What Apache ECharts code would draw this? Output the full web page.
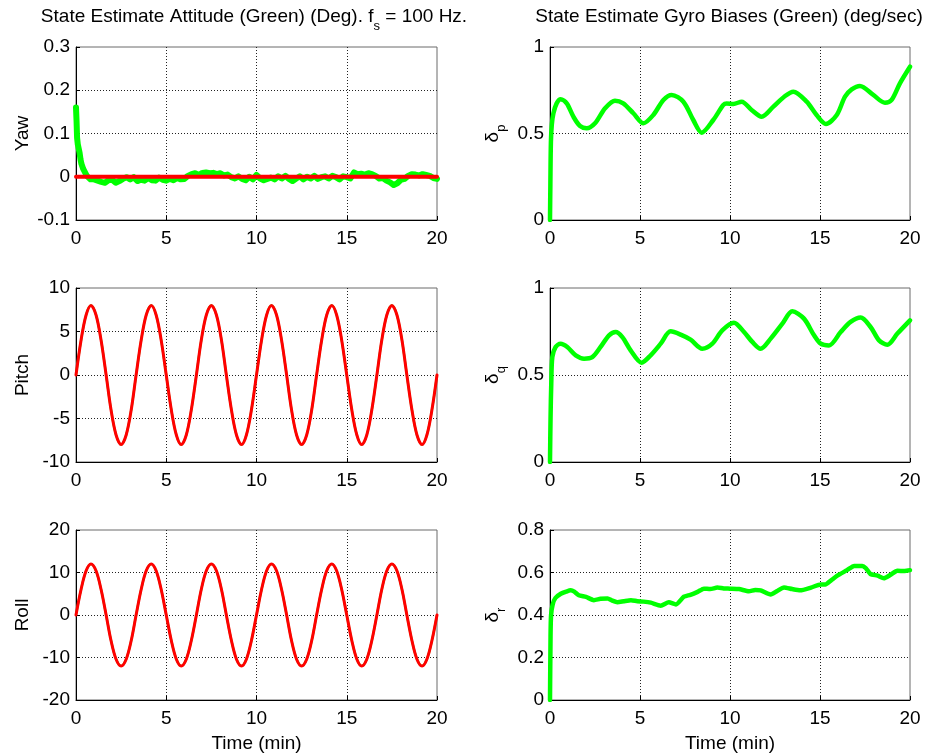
<!DOCTYPE html>
<html>
<head>
<meta charset="utf-8">
<script src="https://cdn.jsdelivr.net/npm/echarts@6/dist/echarts.min.js"></script>
<style>
  html, body { margin: 0; padding: 0; background: #fff; }
  #chart { width: 928px; height: 754px; }
</style>
</head>
<body>
<div id="chart"></div>
<script>
// ---- Attitude (deg) ----
// sample times (min) for pitch / roll reference and estimate
const attTime = [0, 0.28, 0.56, 0.83, 1.11, 1.39, 1.67, 1.94, 2.22, 2.5, 2.78, 3.06,
  3.33, 3.61, 3.89, 4.17, 4.44, 4.72, 5.0, 5.28, 5.56, 5.83, 6.11, 6.39,
  6.67, 6.94, 7.22, 7.5, 7.78, 8.06, 8.33, 8.61, 8.89, 9.17, 9.44, 9.72,
  10.0, 10.28, 10.56, 10.83, 11.11, 11.39, 11.67, 11.94, 12.22, 12.5, 12.78, 13.06,
  13.33, 13.61, 13.89, 14.17, 14.44, 14.72, 15.0, 15.28, 15.56, 15.83, 16.11, 16.39,
  16.67, 16.94, 17.22, 17.5, 17.78, 18.06, 18.33, 18.61, 18.89, 19.17, 19.44, 19.72, 20.0];

const pitchDeg = [0, 4, 6.9, 8, 6.9, 4, 0, -4, -6.9, -8, -6.9, -4,
  0, 4, 6.9, 8, 6.9, 4, 0, -4, -6.9, -8, -6.9, -4,
  0, 4, 6.9, 8, 6.9, 4, 0, -4, -6.9, -8, -6.9, -4,
  0, 4, 6.9, 8, 6.9, 4, 0, -4, -6.9, -8, -6.9, -4,
  0, 4, 6.9, 8, 6.9, 4, 0, -4, -6.9, -8, -6.9, -4,
  0, 4, 6.9, 8, 6.9, 4, 0, -4, -6.9, -8, -6.9, -4, 0];

const rollDeg = [0, 6, 10.4, 12, 10.4, 6, 0, -6, -10.4, -12, -10.4, -6,
  0, 6, 10.4, 12, 10.4, 6, 0, -6, -10.4, -12, -10.4, -6,
  0, 6, 10.4, 12, 10.4, 6, 0, -6, -10.4, -12, -10.4, -6,
  0, 6, 10.4, 12, 10.4, 6, 0, -6, -10.4, -12, -10.4, -6,
  0, 6, 10.4, 12, 10.4, 6, 0, -6, -10.4, -12, -10.4, -6,
  0, 6, 10.4, 12, 10.4, 6, 0, -6, -10.4, -12, -10.4, -6, 0];

// yaw reference is held at zero over the run
const yawRefTime = [0, 20];
const yawRef = [0, 0];

// estimated yaw: [time (min), deg]
const yawEst = [[0, 0.16], [0.03, 0.13], [0.06, 0.09], [0.1, 0.075], [0.15, 0.065], [0.2, 0.055],
  [0.25, 0.04], [0.3, 0.03], [0.4, 0.018], [0.5, 0.01], [0.6, 0.002], [0.8, -0.006],
  [1.0, -0.006], [1.2, -0.009], [1.4, -0.012], [1.6, -0.014], [1.8, -0.008], [2.0, -0.007],
  [2.2, -0.014], [2.4, -0.01], [2.6, -0.005], [2.8, -0.001], [3.0, -0.006], [3.2, -0.001],
  [3.4, -0.01], [3.6, -0.007], [3.8, -0.009], [4.0, -0.003], [4.2, -0.008], [4.4, -0.009],
  [4.6, -0.002], [4.8, -0.007], [5.0, -0.009], [5.2, -0.005], [5.4, -0.008], [5.6, -0.003],
  [5.8, -0.006], [6.0, -0.005], [6.2, 0.002], [6.4, 0.006], [6.6, 0.008], [6.8, 0.004],
  [7.0, 0.009], [7.2, 0.01], [7.4, 0.008], [7.6, 0.009], [7.8, 0.006], [8.0, 0.008],
  [8.2, 0.003], [8.4, 0.005], [8.6, -0.001], [8.8, -0.004], [9.0, 0.001], [9.2, -0.005],
  [9.4, -0.008], [9.6, 0.0], [9.8, -0.006], [10.0, 0.004], [10.2, -0.004], [10.4, -0.008],
  [10.6, -0.005], [10.8, -0.002], [11.0, -0.006], [11.2, 0.001], [11.4, -0.004], [11.6, 0.002],
  [11.8, -0.005], [12.0, -0.01], [12.2, -0.004], [12.4, 0.001], [12.6, -0.006], [12.8, 0.0],
  [13.0, -0.004], [13.2, 0.002], [13.4, -0.005], [13.6, -0.001], [13.8, 0.001], [14.0, -0.004],
  [14.2, 0.002], [14.4, -0.001], [14.6, -0.006], [14.8, 0.001], [15.0, -0.001], [15.2, -0.004],
  [15.4, 0.01], [15.6, 0.006], [15.8, 0.007], [16.0, 0.005], [16.2, 0.008], [16.4, 0.006],
  [16.6, 0.002], [16.8, -0.004], [17.0, -0.003], [17.2, -0.009], [17.4, -0.013], [17.6, -0.019],
  [17.8, -0.015], [18.0, -0.007], [18.2, -0.005], [18.4, 0.002], [18.6, 0.006], [18.8, 0.005],
  [19.0, 0.003], [19.2, 0.006], [19.4, 0.004], [19.6, 0.002], [19.8, -0.003], [20.0, -0.005]];

// ---- Gyro bias estimates (deg/sec): [time (min), value] ----
const biasP = [[0, 0], [0.02, 0.2], [0.05, 0.45], [0.1, 0.55], [0.19, 0.617], [0.37, 0.674],
  [0.59, 0.698], [0.93, 0.674], [1.3, 0.597], [1.67, 0.543], [2.04, 0.53], [2.5, 0.559],
  [3.06, 0.646], [3.61, 0.69], [4.07, 0.674], [4.63, 0.617], [5.19, 0.559], [5.74, 0.607],
  [6.3, 0.694], [6.76, 0.723], [7.41, 0.684], [7.96, 0.578], [8.43, 0.505], [9.07, 0.578],
  [9.63, 0.665], [9.81, 0.674], [10.19, 0.671], [10.65, 0.684], [11.2, 0.636], [11.76, 0.597],
  [12.41, 0.655], [13.06, 0.717], [13.52, 0.742], [14.26, 0.684], [14.81, 0.607], [15.33, 0.555],
  [15.93, 0.607], [16.39, 0.713], [16.76, 0.755], [17.22, 0.775], [17.96, 0.723], [18.61, 0.678],
  [18.98, 0.694], [19.44, 0.79], [20.0, 0.886]];

const biasQ = [[0, 0], [0.03, 0.25], [0.07, 0.45], [0.13, 0.603], [0.31, 0.661], [0.59, 0.68],
  [0.96, 0.661], [1.43, 0.613], [1.89, 0.594], [2.35, 0.603], [2.81, 0.661], [3.28, 0.728],
  [3.65, 0.747], [4.02, 0.718], [4.48, 0.642], [5.09, 0.571], [5.59, 0.613], [6.15, 0.68],
  [6.7, 0.751], [7.26, 0.732], [7.81, 0.703], [8.46, 0.651], [9.02, 0.68], [9.57, 0.757],
  [10.22, 0.801], [10.78, 0.747], [11.24, 0.69], [11.7, 0.651], [12.26, 0.709], [12.91, 0.795],
  [13.46, 0.866], [14.11, 0.824], [14.67, 0.728], [15.04, 0.68], [15.5, 0.67], [16.15, 0.747],
  [16.7, 0.805], [17.26, 0.83], [17.81, 0.776], [18.28, 0.699], [18.74, 0.674], [19.3, 0.738],
  [20.0, 0.814]];

const biasR = [[0, 0], [0.03, 0.3], [0.06, 0.4], [0.15, 0.45], [0.3, 0.48], [0.6, 0.5],
  [0.9, 0.51], [1.15, 0.516], [1.35, 0.51], [1.6, 0.493], [2.0, 0.485], [2.44, 0.47],
  [2.8, 0.476], [3.2, 0.478], [3.45, 0.468], [3.74, 0.46], [4.1, 0.465], [4.5, 0.47],
  [4.85, 0.465], [5.2, 0.463], [5.6, 0.458], [6.15, 0.444], [6.6, 0.46], [7.0, 0.45],
  [7.44, 0.486], [7.8, 0.495], [8.2, 0.509], [8.55, 0.524], [8.9, 0.522], [9.3, 0.529],
  [9.65, 0.525], [10.0, 0.524], [10.5, 0.522], [11.05, 0.512], [11.4, 0.518], [11.7, 0.516],
  [12.26, 0.497], [12.6, 0.512], [13.0, 0.53], [13.45, 0.522], [13.9, 0.516], [14.5, 0.529],
  [15.04, 0.544], [15.3, 0.544], [15.6, 0.562], [15.96, 0.585], [16.5, 0.611], [16.9, 0.631],
  [17.35, 0.631], [17.55, 0.62], [17.8, 0.593], [18.2, 0.585], [18.55, 0.573], [18.9, 0.588],
  [19.3, 0.608], [19.7, 0.607], [20.0, 0.611]];

// axis tick settings
const timeTicks = { min: 0, max: 20, interval: 5 };
const yawTicks = { min: -0.1, max: 0.3, interval: 0.1 };
const pitchTicks = { min: -10, max: 10, interval: 5 };
const rollTicks = { min: -20, max: 20, interval: 10 };
const biasPQTicks = { min: 0, max: 1, interval: 0.5 };
const biasRTicks = { min: 0, max: 0.8, interval: 0.2 };

const FONT = '"Liberation Sans", Arial, Helvetica, sans-serif';
const FS = 19;
const SUB_FS = 13;
const GREEN = '#00ff00';
const RED = '#ff0000';

const colLeft = [76, 550];
const colWidth = [361, 360];
const rowTop = [47, 288, 530];
const rowHeight = [173, 174, 174];

const grids = [];
for (let r = 0; r < 3; r++) {
  for (let c = 0; c < 2; c++) {
    grids.push({
      left: colLeft[c], top: rowTop[r], width: colWidth[c], height: rowHeight[r],
      show: true, backgroundColor: '#fff', borderColor: '#6a6a6a', borderWidth: 1,
      containLabel: false
    });
  }
}

const gridLine = { show: true, showMinLine: false, showMaxLine: false,
  lineStyle: { color: '#222', width: 1, type: [1, 2] } };

function xAxisFor(i, withName) {
  return {
    type: 'value', gridIndex: i, min: timeTicks.min, max: timeTicks.max, interval: timeTicks.interval,
    axisLine: { show: true, onZero: false, lineStyle: { color: '#000', width: 1 } },
    axisTick: { show: true, inside: true, length: 4, lineStyle: { color: '#000' } },
    axisLabel: { color: '#000', fontFamily: FONT, fontSize: FS, margin: 9 },
    splitLine: gridLine,
    name: withName ? 'Time (min)' : '',
    nameLocation: 'middle', nameGap: 34,
    nameTextStyle: { color: '#000', fontFamily: FONT, fontSize: FS }
  };
}

const subRich = {
  a: { fontFamily: FONT, fontSize: FS, color: '#000', lineHeight: 31 },
  b: { fontFamily: FONT, fontSize: SUB_FS, color: '#000', verticalAlign: 'bottom' }
};

function yAxisFor(i, ticks, name, gap) {
  return {
    type: 'value', gridIndex: i, min: ticks.min, max: ticks.max, interval: ticks.interval,
    axisLine: { show: true, onZero: false, lineStyle: { color: '#000', width: 1 } },
    axisTick: { show: true, inside: true, length: 4, lineStyle: { color: '#000' } },
    axisLabel: { color: '#000', fontFamily: FONT, fontSize: FS, margin: 6 },
    splitLine: gridLine,
    name: name, nameLocation: 'middle', nameGap: gap,
    nameTextStyle: { color: '#000', fontFamily: FONT, fontSize: FS, rich: subRich }
  };
}

function zip(xs, ys) {
  return xs.map((x, k) => [x, ys[k]]);
}

function line(i, data, color, width, smooth) {
  return {
    type: 'line', xAxisIndex: i, yAxisIndex: i, data: data,
    showSymbol: false, symbol: 'none', smooth: smooth, clip: true,
    lineStyle: { color: color, width: width, join: 'round', cap: 'round' },
    itemStyle: { color: color }, silent: true
  };
}

const titleRich = {
  t: { fontFamily: FONT, fontSize: FS, fontWeight: 'normal', color: '#000', lineHeight: 32 },
  s: { fontFamily: FONT, fontSize: SUB_FS, fontWeight: 'normal', color: '#000', verticalAlign: 'bottom' }
};

const option = {
  animation: false,
  backgroundColor: '#fff',
  title: [
    { left: 254, top: 1, padding: 0, textAlign: 'center',
      text: '{t|State Estimate Attitude (Green) (Deg). f}{s|s}{t| = 100 Hz.}',
      textStyle: { fontWeight: 'normal', rich: titleRich } },
    { left: 729, top: 1, padding: 0, textAlign: 'center',
      text: '{t|State Estimate Gyro Biases (Green) (deg/sec)}',
      textStyle: { fontWeight: 'normal', rich: titleRich } }
  ],
  grid: grids,
  xAxis: [0, 1, 2, 3, 4, 5].map(i => xAxisFor(i, i >= 4)),
  yAxis: [
    yAxisFor(0, yawTicks, 'Yaw', 44),
    yAxisFor(1, biasPQTicks, '{a|δ}{b|p}', 42),
    yAxisFor(2, pitchTicks, 'Pitch', 44),
    yAxisFor(3, biasPQTicks, '{a|δ}{b|q}', 42),
    yAxisFor(4, rollTicks, 'Roll', 44),
    yAxisFor(5, biasRTicks, '{a|δ}{b|r}', 42)
  ],
  series: [
    line(0, yawEst, GREEN, 6, false),
    line(0, zip(yawRefTime, yawRef), RED, 4, false),
    line(2, zip(attTime, pitchDeg), GREEN, 2.2, 0.34),
    line(2, zip(attTime, pitchDeg), RED, 3, 0.34),
    line(4, zip(attTime, rollDeg), GREEN, 2.2, 0.34),
    line(4, zip(attTime, rollDeg), RED, 3, 0.34),
    line(1, biasP, GREEN, 4.5, 0.3),
    line(3, biasQ, GREEN, 4.5, 0.3),
    line(5, biasR, GREEN, 4.5, 0.2)
  ]
};

const chart = echarts.init(document.getElementById('chart'), null, { renderer: 'canvas' });
chart.setOption(option);
</script>
</body>
</html>
